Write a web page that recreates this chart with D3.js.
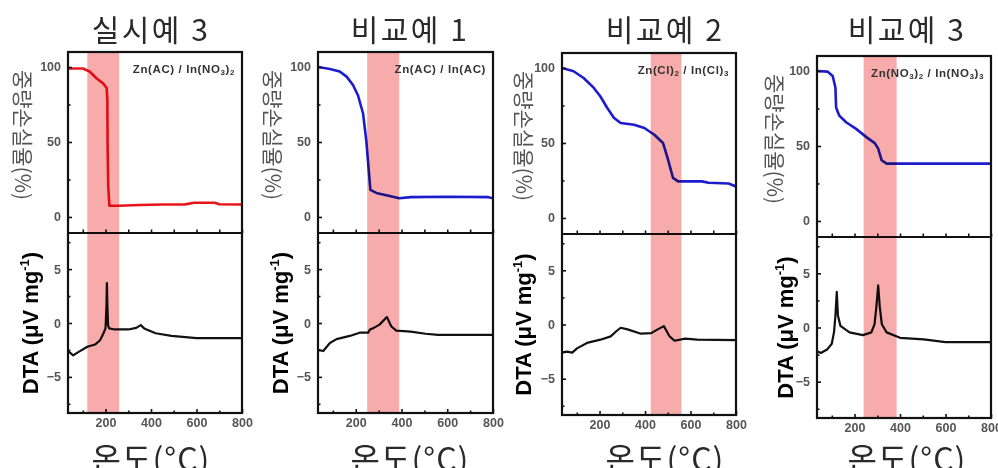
<!DOCTYPE html>
<html><head><meta charset="utf-8">
<script src="https://cdn.jsdelivr.net/npm/d3@7"></script>
<style>body{margin:0;background:#fff;} svg{display:block}</style>
</head><body><svg id="c" width="998" height="468"></svg>
<script>
// ---------- data ----------
const titles = ["실시예 3", "비교예 1", "비교예 2", "비교예 3"];
const xLabel = "온도(°C)";
const tgaLabel = "중량손실율(%)";
const dtaLabel = ["DTA (μV mg", "-1", ")"];
const xTickValues = [200, 400, 600, 800];
const xMinorTicks = [100, 300, 500, 700];
const tgaTickValues = [0, 50, 100];
const tgaMinorTicks = [25, 75];
const dtaTickValues = [-5, 0, 5];
const dtaMinorTicks = [-7.5, -2.5, 2.5, 7.5];
const annotations = [
  [["Zn(AC) / In(NO", 0], ["3", 1], [")", 0], ["2", 1]],
  [["Zn(AC) / In(AC)", 0]],
  [["Zn(Cl)", 0], ["2", 1], [" / In(Cl)", 0], ["3", 1]],
  [["Zn(NO", 0], ["3", 1], [")", 0], ["2", 1], [" / In(NO", 0], ["3", 1], [")", 0], ["3", 1]]
];
const bands = [[120, 260], [250, 390], [425, 560], [240, 385]];

// [temperature °C, weight %]
const tga1 = [[35,99],[100,99],[130,97],[160,92.5],[190,89],[205,86],[208,78],[209,49],[212,20],[217,7.5],[260,7.5],[350,8],[450,8.3],[550,8.4],[590,9.5],[680,9.5],[700,8.5],[800,8.3]];
const tga2 = [[35,100],[87,98.7],[130,97],[160,93.6],[188,88],[210,81],[232,69],[246,51],[258,29],[264,18],[290,16],[348,14],[390,12.5],[440,13.2],[600,13.5],[780,13.2],[800,12.5]];
const tga3 = [[35,100],[86,97.8],[130,93.3],[175,86.7],[204,81],[234,73.3],[264,66.7],[293,63.3],[352,62.2],[397,60],[441,55.5],[479,50],[501,39],[523,26.7],[545,24.4],[650,24.4],[680,23.5],[767,23],[800,21]];
const tga4 = [[35,100],[81,99.6],[104,96.7],[116,89],[119,75.7],[133,70.2],[163,65.8],[207,61.4],[252,55.9],[289,51.9],[304,48.2],[319,40.5],[341,38.2],[800,38.2]];
// [temperature °C, DTA μV/mg]
const dta1 = [[35,-2.6],[58,-3.0],[80,-2.7],[120,-2.2],[154,-2.0],[176,-1.6],[190,-1.0],[200,-0.5],[204,1.5],[206,3.7],[208,1.8],[211,-0.2],[216,-0.5],[240,-0.6],[300,-0.6],[335,-0.45],[355,-0.2],[370,-0.5],[420,-0.95],[490,-1.2],[600,-1.4],[800,-1.4]];
const dta2 = [[35,-2.5],[58,-2.6],[87,-1.85],[116,-1.5],[174,-1.2],[217,-0.9],[254,-0.9],[262,-0.6],[275,-0.5],[304,-0.15],[336,0.55],[355,-0.3],[377,-0.7],[440,-0.8],[505,-1.0],[560,-1.1],[800,-1.1]];
const dta3 = [[35,-2.6],[56,-2.5],[80,-2.6],[101,-2.2],[145,-1.7],[204,-1.4],[249,-1.1],[275,-0.6],[293,-0.3],[323,-0.45],[382,-0.85],[427,-0.8],[456,-0.45],[483,-0.15],[508,-1.1],[530,-1.5],[576,-1.3],[630,-1.4],[800,-1.45]];
const dta4 = [[35,-2.2],[52,-2.35],[81,-2.0],[100,-1.5],[110,-0.4],[116,1.1],[122,3.3],[127,1.1],[138,0.15],[178,-0.45],[237,-0.7],[274,-0.45],[288,0.3],[296,1.9],[304,3.9],[311,1.9],[320,0.3],[341,-0.45],[400,-0.95],[504,-1.1],[600,-1.35],[800,-1.35]];

const tgaSeries = [tga1, tga2, tga3, tga4];
const dtaSeries = [dta1, dta2, dta3, dta4];
const tgaColors = ["#e8141c", "#1c1ccc", "#1c1ccc", "#1c1ccc"];

// ---------- layout ----------
const layout = [
  {x0: 68,  x1: 242, top: 52, mid: 233, bot: 413, titleX: 151, tgaLabX: 24,  dtaLabX: 30},
  {x0: 318, x1: 493, top: 52, mid: 233, bot: 413, titleX: 410, tgaLabX: 274, dtaLabX: 280},
  {x0: 562, x1: 736, top: 53, mid: 234, bot: 415, titleX: 665, tgaLabX: 525, dtaLabX: 523},
  {x0: 817, x1: 991, top: 56, mid: 237, bot: 418, titleX: 907, tgaLabX: 776, dtaLabX: 785}
];
const xDomain = [35, 800];
const tgaDomain = [-10.7, 110];
const dtaDomain = [-8.35, 8.35];

const svg = d3.select("#c");
const tickFont = "'Liberation Sans', Arial, sans-serif";
const krFont = "'Noto Sans CJK KR', 'Noto Sans', sans-serif";

layout.forEach((L, i) => {
  const g = svg.append("g");
  const x = d3.scaleLinear().domain(xDomain).range([L.x0, L.x1]);
  const yT = d3.scaleLinear().domain(tgaDomain).range([L.mid, L.top]);
  const yD = d3.scaleLinear().domain(dtaDomain).range([L.bot, L.mid]);

  const clipId = "clip" + i;
  svg.append("clipPath").attr("id", clipId).append("rect")
    .attr("x", L.x0).attr("y", L.top).attr("width", L.x1 - L.x0).attr("height", L.bot - L.top);

  const plot = g.append("g").attr("clip-path", `url(#${clipId})`);
  plot.append("path").datum(tgaSeries[i])
    .attr("d", d3.line().x(d => x(d[0])).y(d => yT(d[1])))
    .attr("fill", "none").attr("stroke", tgaColors[i]).attr("stroke-width", 2.6)
    .attr("stroke-linejoin", "round");
  plot.append("path").datum(dtaSeries[i])
    .attr("d", d3.line().x(d => x(d[0])).y(d => yD(d[1])))
    .attr("fill", "none").attr("stroke", "#111").attr("stroke-width", 2.2)
    .attr("stroke-linejoin", "round");

  const styleAxis = sel => {
    sel.select(".domain").remove();
    sel.selectAll(".tick line").attr("stroke", "#111").attr("stroke-width", 1.6);
    sel.selectAll(".tick text").attr("font-family", tickFont).attr("font-weight", "bold")
      .attr("font-size", 12.5).attr("fill", "#555");
  };
  g.append("g").attr("transform", `translate(${L.x0},0)`)
    .call(d3.axisLeft(yT).tickValues(tgaTickValues).tickSize(-4).tickPadding(7).tickFormat(d3.format("d")))
    .call(styleAxis);
  g.append("g").attr("transform", `translate(${L.x0},0)`)
    .call(d3.axisLeft(yT).tickValues(tgaMinorTicks).tickSize(-2.5).tickFormat(""))
    .call(styleAxis);
  g.append("g").attr("transform", `translate(${L.x0},0)`)
    .call(d3.axisLeft(yD).tickValues(dtaTickValues).tickSize(-4).tickPadding(7).tickFormat(d3.format("d")))
    .call(styleAxis);
  g.append("g").attr("transform", `translate(${L.x0},0)`)
    .call(d3.axisLeft(yD).tickValues(dtaMinorTicks).tickSize(-2.5).tickFormat(""))
    .call(styleAxis);
  g.append("g").attr("transform", `translate(0,${L.bot})`)
    .call(d3.axisBottom(x).tickValues(xTickValues).tickSize(-4).tickPadding(5).tickFormat(d3.format("d")))
    .call(styleAxis);
  g.append("g").attr("transform", `translate(0,${L.bot})`)
    .call(d3.axisBottom(x).tickValues(xMinorTicks).tickSize(-2.5).tickFormat(""))
    .call(styleAxis);
  g.append("g").attr("transform", `translate(0,${L.mid})`)
    .call(d3.axisBottom(x).tickValues(xTickValues.concat(xMinorTicks)).tickSize(-3.5).tickFormat(""))
    .call(styleAxis);

  g.append("rect").attr("x", L.x0).attr("y", L.top).attr("width", L.x1 - L.x0).attr("height", L.bot - L.top)
    .attr("fill", "none").attr("stroke", "#111").attr("stroke-width", 2.2);
  g.append("line").attr("x1", L.x0).attr("x2", L.x1).attr("y1", L.mid).attr("y2", L.mid)
    .attr("stroke", "#111").attr("stroke-width", 2.2);

  g.append("rect")
    .attr("x", x(bands[i][0])).attr("width", x(bands[i][1]) - x(bands[i][0]))
    .attr("y", L.top + 1).attr("height", L.bot - L.top - 2)
    .attr("fill", "#f7abab").style("mix-blend-mode", "multiply");

  const ann = g.append("text").attr("x", L.x1 - 7).attr("y", L.top + 21)
    .attr("text-anchor", "end").attr("font-family", tickFont).attr("font-weight", "bold")
    .attr("font-size", 11.5).attr("letter-spacing", 0.6).attr("fill", "#333");
  annotations[i].forEach(([t, sub]) => {
    const ts = ann.append("tspan").text(t);
    if (sub) ts.attr("font-size", 8).attr("baseline-shift", "-30%");
  });

  g.append("text").attr("x", L.titleX).attr("y", 41).attr("text-anchor", "middle")
    .attr("font-family", krFont).attr("font-size", 30).attr("letter-spacing", 2.5)
    .attr("fill", "#2a2a2a").text(titles[i]);

  g.append("text").attr("x", L.titleX).attr("y", 471).attr("text-anchor", "middle")
    .attr("font-family", krFont).attr("font-size", 32).attr("letter-spacing", 1)
    .attr("fill", "#2a2a2a").text(xLabel);

  const ty = L.top + 83;
  g.append("text").attr("transform", `translate(${L.tgaLabX},${ty}) rotate(90)`)
    .attr("text-anchor", "middle").attr("dominant-baseline", "central")
    .attr("font-family", krFont).attr("font-size", 21).attr("fill", "#555").text(tgaLabel);

  const dy = (L.mid + L.bot) / 2;
  const dl = g.append("text").attr("transform", `translate(${L.dtaLabX},${dy}) rotate(-90)`)
    .attr("text-anchor", "middle").attr("dominant-baseline", "central")
    .attr("font-family", tickFont).attr("font-weight", "bold").attr("font-size", 22).attr("fill", "#000");
  dl.append("tspan").text(dtaLabel[0]);
  dl.append("tspan").text(dtaLabel[1]).attr("font-size", 13).attr("baseline-shift", "45%");
  dl.append("tspan").text(dtaLabel[2]);
});
</script></body></html>
